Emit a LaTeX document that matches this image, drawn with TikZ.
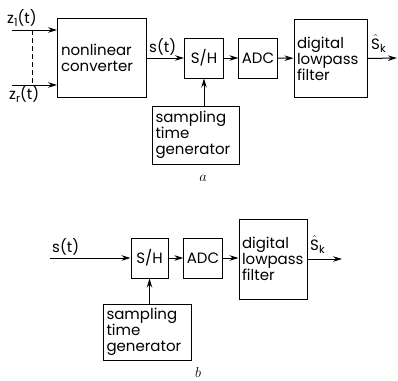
\documentclass[tikz,border=0pt]{standalone}
\usepackage{fontspec}
\setmainfont{Poppins}
\usetikzlibrary{arrows.meta}
\newcommand{\txt}{\fontsize{15}{16}\selectfont}
\newcommand{\lowsub}[1]{\raisebox{-3.5pt}{\fontsize{11}{11}\selectfont #1}}
\newcommand{\shat}{$\hat{\mbox{S}}$\lowsub{k}}
\tikzset{
  blk/.style={draw, line width=1pt, inner sep=3pt, font=\txt},
  txtblk/.style={blk, align=left},
  arr/.style={line width=1pt, -{Stealth[length=9pt,width=5.5pt]}},
  lbl/.style={font=\txt, inner sep=0pt}
}
\begin{document}
\begin{tikzpicture}[x=1pt, y=-1pt]
  \useasboundingbox (0,0) rectangle (398,380);
  %%%%% a %%%%%
  \node[txtblk, minimum width=89pt, minimum height=79pt, text width=82pt] (conv) at (102,58) {nonlinear\\converter};
  \node[blk, minimum width=39pt, minimum height=40pt] (sh) at (204,58) {S/H};
  \node[blk, minimum width=38pt, minimum height=40pt] (adc) at (258,58) {ADC};
  \node[txtblk, minimum width=73pt, minimum height=78pt, text width=67pt] (filt) at (330.5,58.5) {digital\\lowpass\\filter\\[8pt]};
  \node[txtblk, minimum width=87pt, minimum height=58pt, text width=80pt] (gen) at (195.5,135) {sampling\\time\\generator};
  \node[lbl, font=\fontsize{14}{14}\selectfont] (capa) at (203,178) {$a$};

  \coordinate (z1) at (12,30);
  \coordinate (zr) at (12,85);
  \coordinate (out) at (397,58);
  \draw[arr] (z1) -- (z1 -| conv.west);
  \draw[arr] (zr) -- (zr -| conv.west);
  \draw[line width=1pt, dash pattern=on 5pt off 3pt] (32,30) -- (32,85);
  \node[lbl, anchor=south west] (z1lbl) at (7,27) {z\lowsub{1}(t)};
  \node[lbl, anchor=north west] (zrlbl) at (9,85) {z\lowsub{r}(t)};

  \draw[arr] (conv) -- (sh);
  \node[lbl, anchor=south west] (slbl) at (149,55) {s(t)};
  \draw[arr] (sh) -- (adc);
  \draw[arr] (adc) -- (filt);
  \draw[arr] (filt.east) -- (out);
  \node[lbl, anchor=south west] (sklbl) at (371,53) {\shat};
  \draw[arr] (gen.north -| sh) -- (sh.south);

  %%%%% b %%%%%
  \node[blk, minimum width=37pt, minimum height=40pt] (sh2) at (149.5,258) {S/H};
  \node[blk, minimum width=38pt, minimum height=40pt] (adc2) at (203,258) {ADC};
  \node[txtblk, minimum width=68pt, minimum height=80pt, text width=62pt] (filt2) at (273,259) {digital\\lowpass\\filter\\[8pt]};
  \node[txtblk, minimum width=88pt, minimum height=56pt, text width=81pt] (gen2) at (147,332) {sampling\\time\\generator};
  \node[lbl, font=\fontsize{14}{14}\selectfont] (capb) at (198,372) {$b$};

  \coordinate (in2) at (50,258);
  \coordinate (out2) at (342,259);
  \draw[arr] (in2) -- (sh2);
  \node[lbl, anchor=south west] (s2lbl) at (52,255) {s(t)};
  \draw[arr] (sh2) -- (adc2);
  \draw[arr] (adc2) -- (adc2 -| filt2.west);
  \draw[arr] (filt2.east) -- (out2);
  \node[lbl, anchor=south west] (sk2lbl) at (310,254) {\shat};
  \draw[arr] (gen2.north -| sh2) -- (sh2.south);
\end{tikzpicture}
\end{document}
